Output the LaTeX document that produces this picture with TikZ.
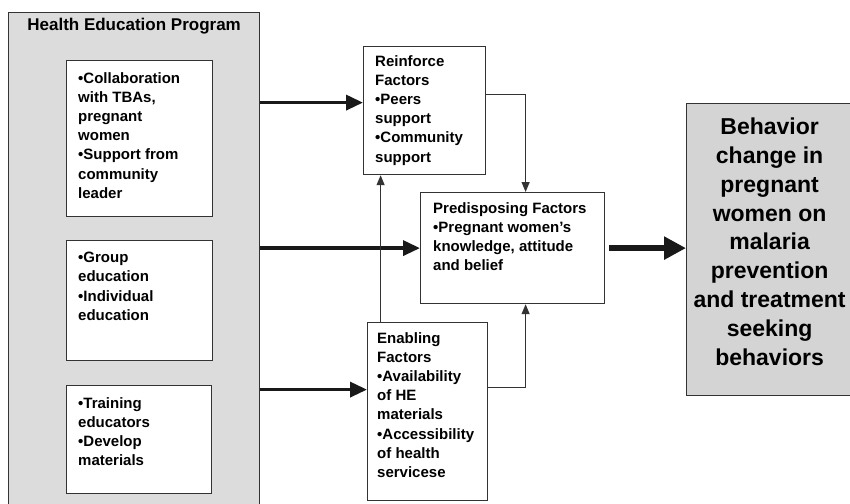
\documentclass[tikz,border=0pt]{standalone}
\usepackage{fontspec}
\setmainfont{Liberation Sans}
\usetikzlibrary{arrows.meta,positioning,calc}
\definecolor{panelgray}{HTML}{DCDCDC}
\definecolor{outcomegray}{HTML}{D4D4D4}
\definecolor{boxline}{HTML}{333333}

\begin{document}
\begin{tikzpicture}[x=1pt,y=1pt,>=Latex]
\tikzstyle{panel}=[draw=boxline,line width=1.2pt,anchor=north west,inner sep=0pt,fill=white]
\tikzstyle{words}=[anchor=north west,align=left,inner sep=0pt,font=\bfseries\fontsize{15}{19.2}\selectfont]
\tikzstyle{bigarrow}=[draw=black!90,line width=3.5pt,-{Triangle[length=17pt,width=15pt]}]
\tikzstyle{mainarrow}=[draw=black!90,line width=5.5pt,-{Triangle[length=22pt,width=22pt]}]
\tikzstyle{thinarrow}=[draw=boxline,line width=1.2pt,-{Triangle[length=10pt,width=8pt]}]
\useasboundingbox (0,0) rectangle (850,-503);
% program side
\node[panel,fill=panelgray,minimum width=251,minimum height=500] (hep) at (8,-12) {};
\node[font=\bfseries\fontsize{17}{20}\selectfont,inner sep=0pt] (title) at ([yshift=-14pt]hep.north) {Health Education Program};
\node[panel,minimum width=146,minimum height=156] (coll) at (66,-60) {};
\node[panel,minimum width=146,minimum height=120] (grp) at (66,-240) {};
\node[panel,minimum width=145,minimum height=108] (trn) at (66,-385) {};
\node[words] (colltext) at ([shift={(12,-12)}]coll.north west) {•Collaboration\\with TBAs,\\pregnant\\women\\•Support from\\community\\leader};
\node[words] (grptext) at ([shift={(12,-12)}]grp.north west) {•Group\\education\\•Individual\\education};
\node[words] (trntext) at ([shift={(12,-12)}]trn.north west) {•Training\\educators\\•Develop\\materials};
% factors
\node[panel,minimum width=122,minimum height=128] (reinf) at (363,-46) {};
\node[panel,minimum width=184,minimum height=111] (predis) at (420,-192) {};
\node[panel,minimum width=120,minimum height=178] (enab) at (367,-322) {};
\node[words] (reinftext) at ([shift={(12,-9)}]reinf.north west) {Reinforce\\Factors\\•Peers\\support\\•Community\\support};
\node[words] (predistext) at ([shift={(13,-10)}]predis.north west) {Predisposing Factors\\•Pregnant women’s\\knowledge, attitude\\and belief};
\node[words] (enabtext) at ([shift={(10,-10)}]enab.north west) {Enabling\\Factors\\•Availability\\of HE\\materials\\•Accessibility\\of health\\servicese};
% outcome
\node[panel,fill=outcomegray,minimum width=174,minimum height=292] (behav) at (686,-103) {};
\node[align=center,inner sep=0pt,font=\bfseries\fontsize{23}{28.8}\selectfont] (behavtext) at ([shift={(-4,8)}]behav.center) {Behavior\\change in\\pregnant\\women on\\malaria\\prevention\\and treatment\\seeking\\behaviors};
% connectors
\coordinate (in1) at ([yshift=8pt]reinf.west);
\coordinate (in3) at ([yshift=22pt]enab.west);
\coordinate (up) at ([xshift=-47pt]enab.north);
\draw[bigarrow] (in1 -| hep.east) -- (in1);
\draw[bigarrow] (predis.west -| hep.east) -- (predis.west);
\draw[bigarrow] (in3 -| hep.east) -- (in3);
\draw[thinarrow] (up) -- (up |- reinf.south);
\draw[thinarrow] ([yshift=16pt]reinf.east) -| ([xshift=13pt]predis.north);
\draw[thinarrow] ([yshift=24pt]enab.east) -| ([xshift=13pt]predis.south);
\draw[mainarrow,shorten <=4pt] (predis.east) -- (predis.east -| behav.west);
\end{tikzpicture}
\end{document}
